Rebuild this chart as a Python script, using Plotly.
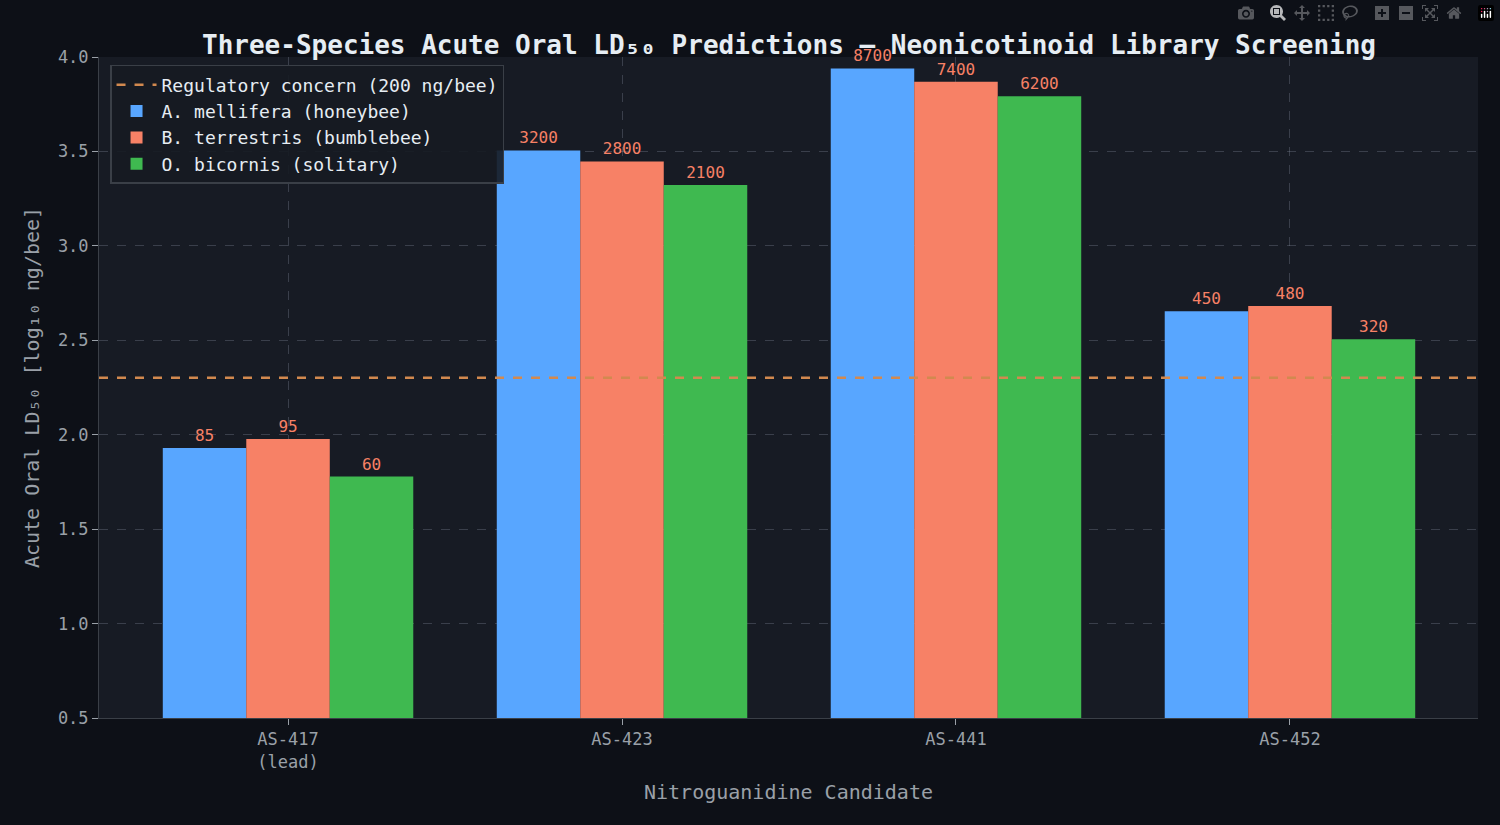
import plotly.graph_objects as go
import numpy as np

candidates = ["AS-417<br>(lead)", "AS-423", "AS-441", "AS-452"]
honeybee = [85, 3200, 8700, 450]
bumblebee = [95, 2800, 7400, 480]
solitary = [60, 2100, 6200, 320]
threshold = 200
series = [("A. mellifera (honeybee)", honeybee, "#58a6ff"),
          ("B. terrestris (bumblebee)", bumblebee, "#f78166"),
          ("O. bicornis (solitary)", solitary, "#3fb950")]

FONT = "DejaVu Sans Mono"
fig = go.Figure()
fig.add_trace(go.Scatter(x=[None], y=[None], mode="lines", name="Regulatory concern (200 ng/bee)",
                         line=dict(color="#d2894f", dash="dash", width=2.5)))
xs = list(range(len(candidates)))
for name, vals, col in series:
    logv = np.log10(vals)
    fig.add_trace(go.Bar(x=xs, y=logv - 0.5, base=0.5, name=name, marker_color=col, marker_line_width=0,
                         text=[str(v) for v in vals], textposition="outside",
                         textfont=dict(color="#f78166", size=16, family=FONT), cliponaxis=False))
fig.add_shape(type="line", xref="paper", x0=0, x1=1, y0=np.log10(threshold), y1=np.log10(threshold),
              line=dict(color="#d2894f", dash="dash", width=2.5))
grid = dict(showgrid=True, gridcolor="rgba(140,150,165,0.3)", griddash="dash", gridwidth=1)
fig.update_layout(
    width=1500, height=825, barmode="group", bargap=0.25, bargroupgap=0,
    paper_bgcolor="#0d1017", plot_bgcolor="#171b24",
    margin=dict(l=99, r=22, t=57, b=107),
    font=dict(family=FONT, color="#9aa0a8", size=17),
    title=dict(text="<b>Three-Species Acute Oral LD₅₀ Predictions — Neonicotinoid Library Screening</b>",
               x=0.526, xanchor="center", y=0.957, font=dict(size=26, color="#e6edf3")),
    legend=dict(x=0.008, y=0.988, xanchor="left", yanchor="top", bgcolor="rgba(22,27,34,0.9)",
                bordercolor="#3a3f47", borderwidth=1.5, font=dict(size=18, color="#e6edf3"),
                itemwidth=40, tracegroupgap=2),
    xaxis=dict(range=[-0.566, 3.563], tickvals=xs, ticktext=candidates, ticks="outside", ticklen=6,
               tickcolor="#9aa0a8", showline=True, linecolor="#3a3f47", zeroline=False,
               title=dict(text="Nitroguanidine Candidate", font=dict(size=20), standoff=14), **grid),
    yaxis=dict(range=[0.5, 4.0], dtick=0.5, tickformat=".1f", ticks="outside", ticklen=6,
               tickcolor="#9aa0a8", showline=True, linecolor="#3a3f47", zeroline=False,
               title=dict(text="Acute Oral LD₅₀ [log₁₀ ng/bee]", font=dict(size=20), standoff=12), **grid),
)
fig.write_html("out.html")
with open("out.html", encoding="utf-8") as f:
    html = f.read()
html = html.replace("<body>", '<body style="margin:0;background:#0d1017">', 1)
with open("out.html", "w", encoding="utf-8") as f:
    f.write(html)
